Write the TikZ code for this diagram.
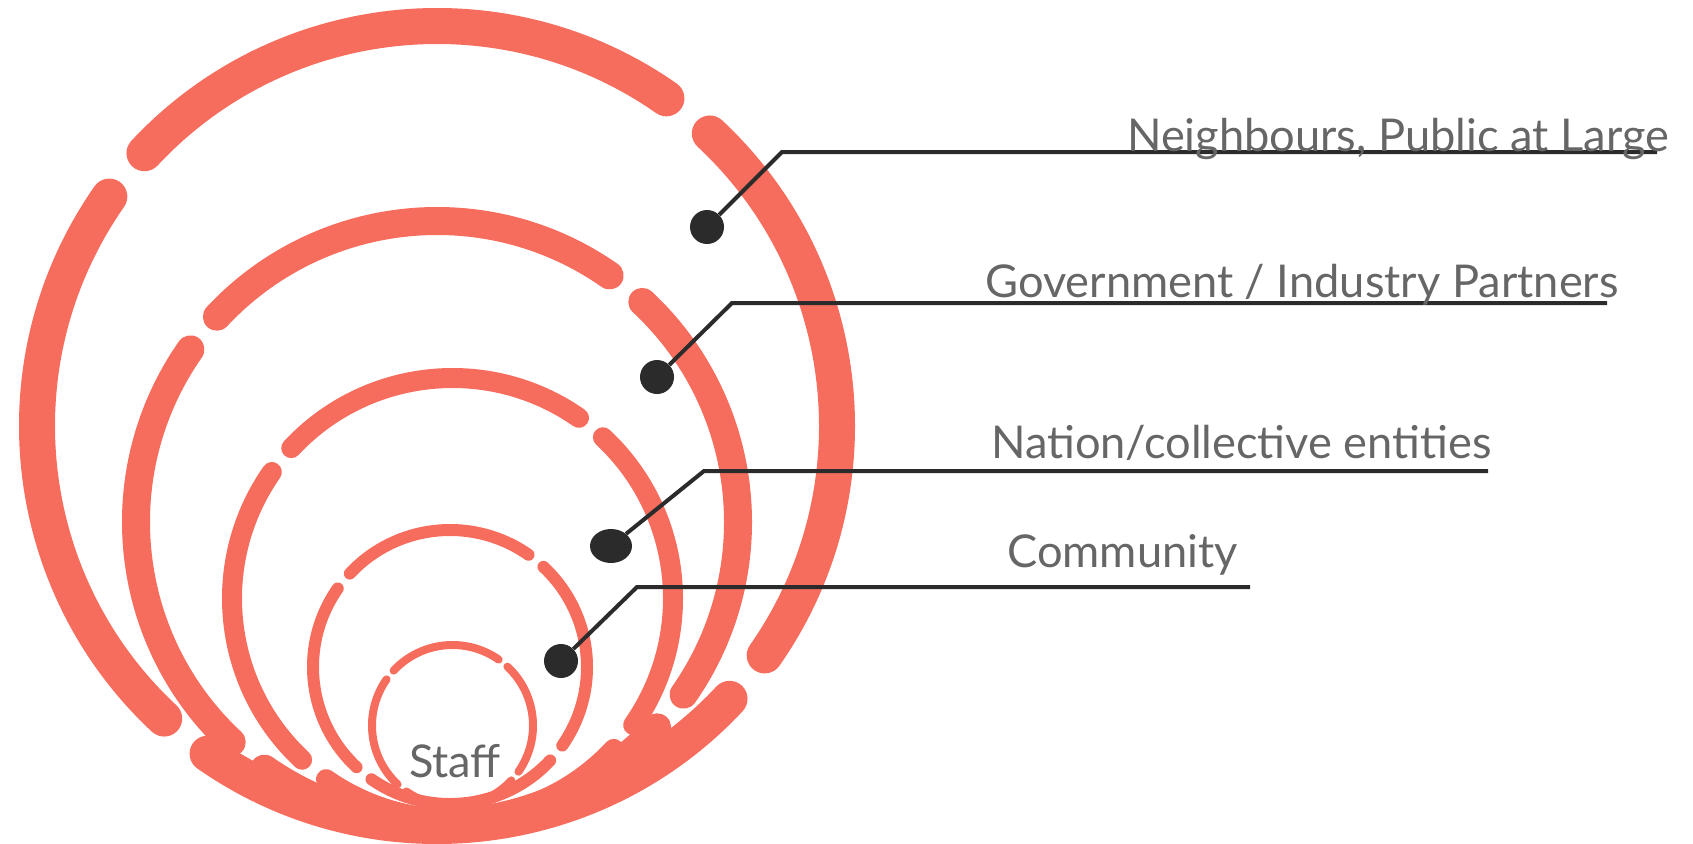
\documentclass[tikz,border=0pt]{standalone}
\usepackage{fontspec}
\setmainfont{Lato}
\usetikzlibrary{positioning,shapes.geometric}
\definecolor{ringred}{HTML}{F66D5D}
\definecolor{dotgray}{HTML}{2B2B2B}
\definecolor{textgray}{HTML}{666666}

\begin{document}
\begin{tikzpicture}[x=1pt,y=-1pt]
  \tikzstyle{ring}=[ringred, line cap=round]
  \tikzstyle{bullet}=[circle, fill=dotgray, inner sep=0pt, minimum size=34pt]
  \tikzstyle{leader}=[dotgray, line width=4pt]
  \tikzstyle{ringtext}=[text=textgray, font=\fontsize{45.2}{54}\selectfont, inner sep=0pt]
  \useasboundingbox (0,0) rectangle (1693,843);

  \foreach \cx/\cy/\r/\w in {437/426/400/36, 437/522/301/28, 452.5/598.5/220.5/20,
                             450/667/137/12, 452.5/725.5/80.5/8}
    \foreach \a in {0,90,180,270}
      \draw[ring, line width=\w pt] (\cx,\cy) ++(-55-\a:\r)
        arc[start angle=-55-\a, end angle=-137-\a, radius=\r];

  \node[bullet] (D_1) at (707,227) {};
  \node[bullet] (D_2) at (657,377) {};
  \node[bullet, ellipse, minimum width=42pt, minimum height=34pt] (D_3) at (611,546) {};
  \node[bullet] (D_4) at (561,661) {};

  \coordinate (K_1) at (782,152);
  \coordinate (K_2) at (732,303);
  \coordinate (K_3) at (704,471);
  \coordinate (K_4) at (637,587);
  \coordinate (E_1) at (1657,152);
  \coordinate (E_2) at (1607,303);
  \coordinate (E_3) at (1488,471);
  \coordinate (E_4) at (1250,587);

  \draw[leader] (D_1) -- (K_1) -- (E_1);
  \draw[leader] (D_2) -- (K_2) -- (E_2);
  \draw[leader] (D_3) -- (K_3) -- (E_3);
  \draw[leader] (D_4) -- (K_4) -- (E_4);

  \node[ringtext, anchor=base west] (T_1) at (1127,151) {Neighbours, Public at Large};
  \node[ringtext, anchor=base west] (T_2) at (985,297) {Government / Industry Partners};
  \node[ringtext, anchor=base west] (T_3) at (991,458) {Nation/collective entities};
  \node[ringtext, anchor=base west] (T_4) at (1007,567) {Community};
  \node[ringtext, anchor=base] (T_5) at (455,777) {Staff};
\end{tikzpicture}
\end{document}
